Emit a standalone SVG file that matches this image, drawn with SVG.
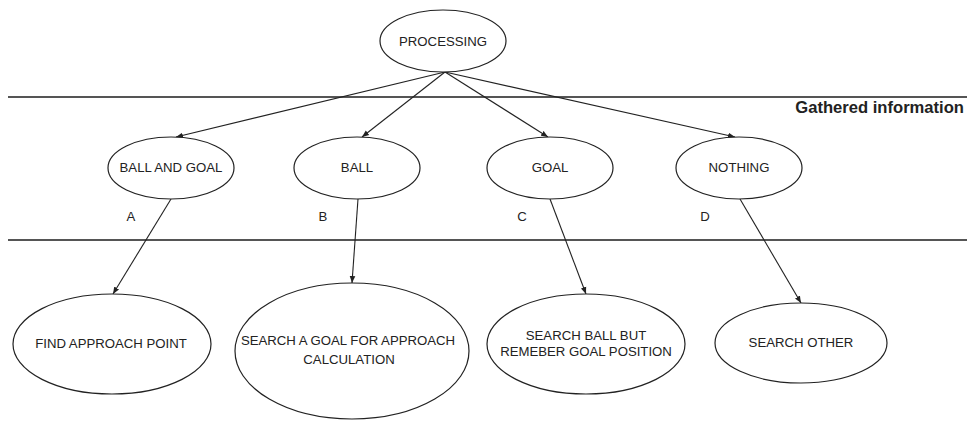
<svg xmlns="http://www.w3.org/2000/svg" width="967" height="421" viewBox="0 0 967 421">
<style>
.n{fill:#fff;stroke:#222;stroke-width:1.2}
.t{font-family:"Liberation Sans",Arial,sans-serif;font-size:13.2px;fill:#222;text-anchor:middle}
.c{stroke:#222;stroke-width:1.1;fill:none;marker-end:url(#ah)}
.sep{stroke:#555;stroke-width:1.8}
</style>
<defs>
<marker id="ah" viewBox="0 0 10 10" refX="10" refY="5" markerWidth="7" markerHeight="7" markerUnits="userSpaceOnUse" orient="auto">
<path d="M0,1 L10,5 L0,9 z" fill="#222"/>
</marker>
</defs>
<rect width="967" height="421" fill="#fff"/>
<line class="sep" x1="8" y1="97" x2="967" y2="97"/>
<line class="sep" x1="8" y1="240" x2="967" y2="240"/>
<text x="964" y="113" font-family="Liberation Sans,Arial,sans-serif" font-size="16.6" font-weight="bold" fill="#222" text-anchor="end">Gathered information</text>
<g id="connectors">
<line class="c" x1="445" y1="72" x2="176" y2="137"/>
<line class="c" x1="445" y1="72" x2="362" y2="137"/>
<line class="c" x1="445" y1="72" x2="548" y2="137"/>
<line class="c" x1="445" y1="72" x2="735" y2="137"/>
<line class="c" x1="171" y1="199" x2="113" y2="294"/>
<line class="c" x1="358" y1="199" x2="352" y2="283"/>
<line class="c" x1="550" y1="199" x2="586" y2="294"/>
<line class="c" x1="740" y1="199" x2="801" y2="303"/>
</g>
<g id="processing"><ellipse class="n" cx="443" cy="41" rx="63" ry="31"/><text class="t" x="443" y="46">PROCESSING</text></g>
<g id="ball-and-goal"><ellipse class="n" cx="171" cy="168" rx="63" ry="31"/><text class="t" x="171" y="172" font-size="12.5">BALL AND GOAL</text></g>
<g id="ball"><ellipse class="n" cx="357" cy="168" rx="63" ry="31"/><text class="t" x="357" y="172">BALL</text></g>
<g id="goal"><ellipse class="n" cx="550" cy="168" rx="63" ry="31"/><text class="t" x="550" y="172">GOAL</text></g>
<g id="nothing"><ellipse class="n" cx="739" cy="168" rx="63" ry="31"/><text class="t" x="739" y="172">NOTHING</text></g>
<g id="label-a"><text class="t" x="131" y="221">A</text></g>
<g id="label-b"><text class="t" x="323" y="221">B</text></g>
<g id="label-c"><text class="t" x="522" y="221">C</text></g>
<g id="label-d"><text class="t" x="705" y="221">D</text></g>
<g id="find-approach"><ellipse class="n" cx="112" cy="344" rx="99" ry="50"/><text class="t" x="111" y="348">FIND APPROACH POINT</text></g>
<g id="search-goal"><ellipse class="n" cx="352" cy="351" rx="117" ry="68"/><text class="t" x="348" y="345">SEARCH A GOAL FOR APPROACH</text><text class="t" x="349" y="364">CALCULATION</text></g>
<g id="search-ball"><ellipse class="n" cx="586" cy="344" rx="99" ry="50"/><text class="t" x="586" y="340">SEARCH BALL BUT</text><text class="t" x="586" y="356">REMEBER GOAL POSITION</text></g>
<g id="search-other"><ellipse class="n" cx="801" cy="343" rx="86" ry="40"/><text class="t" x="801" y="347">SEARCH OTHER</text></g>
</svg>
